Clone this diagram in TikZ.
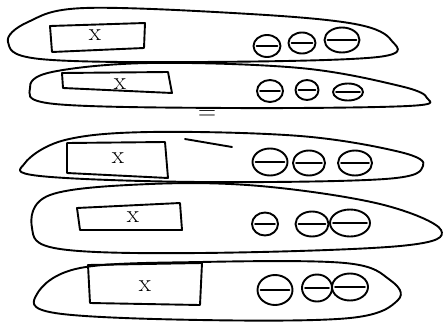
\documentclass[tikz,border=0pt]{standalone}
\usetikzlibrary{shapes.geometric}
\begin{document}
\begin{tikzpicture}[x=1pt,y=-1pt,
  ink/.style={line width=1.9pt,line cap=round,line join=round},
  box/.style={ink},
  lbl/.style={font=\fontsize{25}{25}\selectfont,inner sep=0pt},
  bead/.style={ellipse,draw,ink,inner sep=0pt},
  minusbar/.style={ink}]
\useasboundingbox (0,0) rectangle (443,321);
% ovals
\draw[ink] plot[smooth cycle,tension=0.6] coordinates {(8,42) (28,22) (85,8) (250,14) (355,24) (391,40) (378,57) (200,62) (40,59)};
\draw[ink] plot[smooth cycle,tension=0.6] coordinates {(30,88) (52,72) (150,63) (300,68) (400,86) (427,98) (408,106) (230,108) (55,104)};
\draw[ink] plot[smooth cycle,tension=0.6] coordinates {(25,163) (65,140) (150,132) (300,136) (400,152) (423,166) (385,179) (200,182) (40,176)};
\draw[ink] plot[smooth cycle,tension=0.6] coordinates {(32,228) (50,195) (150,184) (260,186) (380,204) (441,230) (400,246) (200,253) (60,249)};
\draw[ink] plot[smooth cycle,tension=0.6] coordinates {(37,294) (80,268) (200,262) (345,263) (390,280) (398,300) (350,318) (200,320) (55,313)};
\draw[ink] (185,139) -- (232,147);
% boxes
\draw[box] (50,26) -- (145,23) -- (144,48) -- (52,52) -- cycle;
\draw[box] (62,73) -- (168,72) -- (172,93) -- (63,88) -- cycle;
\draw[box] (67,143) -- (165,142) -- (168,178) -- (67,173) -- cycle;
\draw[box] (77,208) -- (180,203) -- (182,230) -- (80,230) -- cycle;
\draw[box] (88,265) -- (202,263) -- (200,305) -- (90,303) -- cycle;
% labels
\node[lbl] (x1) at (95,35) {x};
\node[lbl] (x2) at (120,84) {x};
\node[lbl] (x3) at (118,158) {x};
\node[lbl] (x4) at (133,217) {x};
\node[lbl] (x5) at (145,286) {x};
\node[lbl] (eq) at (207,115) {=};
% beads
\foreach \n/\px/\py/\w/\h in {
  a1/267/46/27/22, a2/302/43/27/21, a3/342/40/35/25,
  b1/270/91/26/22, b2/307/90/23/20, b3/348/92/30/17,
  c1/270/162/35/27, c2/309/163/32/25, c3/355/163/34/25,
  d1/265/224/26/23, d2/312/224/33/25, d3/350/223/40/27,
  e1/275/290/35/30, e2/317/288/30/27, e3/350/287/36/27}{
  \node[bead,minimum width=\w pt,minimum height=\h pt] (\n) at (\px,\py) {};
  \draw[minusbar] ([xshift=4pt]\n.west) -- ([xshift=-4pt]\n.east);
}
\end{tikzpicture}
\end{document}
